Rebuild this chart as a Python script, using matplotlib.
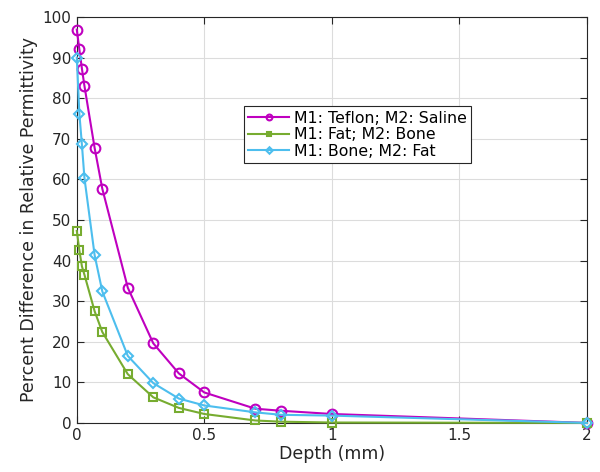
import matplotlib
matplotlib.use('Agg')
import matplotlib.pyplot as plt

plt.rcParams['font.family'] = ['DejaVu Sans']

# depth (mm)
depth = [0, 0.01, 0.02, 0.03, 0.07, 0.1, 0.2, 0.3, 0.4, 0.5, 0.7, 0.8, 1, 2]

# percent difference in relative permittivity
teflon_saline = [96.9, 92.0, 87.3, 83.0, 67.7, 57.7, 33.3, 19.6, 12.2, 7.5, 3.5, 3.0, 2.2, 0]
fat_bone = [47.3, 42.5, 38.6, 36.5, 27.5, 22.4, 12.0, 6.3, 3.7, 2.2, 0.6, 0.3, 0.1, 0]
bone_fat = [90.0, 76.2, 68.6, 60.3, 41.3, 32.4, 16.5, 9.8, 6.0, 4.3, 2.6, 2.0, 1.8, 0]

labels = ['M1: Teflon; M2: Saline', 'M1: Fat; M2: Bone', 'M1: Bone; M2: Fat']

fig = plt.figure(figsize=(6, 4.72), dpi=100)
ax = fig.add_axes([0.128, 0.104, 0.850, 0.860])

ax.plot(depth, teflon_saline, color='#BF00BF', lw=1.5, marker='o', ms=7,
        mfc='none', mew=1.5, label=labels[0], clip_on=False, zorder=3)
ax.plot(depth, fat_bone, color='#77AC30', lw=1.5, marker='s', ms=6,
        mfc='none', mew=1.5, label=labels[1], clip_on=False, zorder=3)
ax.plot(depth, bone_fat, color='#4DBEEE', lw=1.5, marker='D', ms=5.5,
        mfc='none', mew=1.5, label=labels[2], clip_on=False, zorder=3)

ax.set_xlim(0, 2)
ax.set_ylim(0, 100)
ax.set_xticks([0, 0.5, 1, 1.5, 2])
ax.set_xticklabels(['0', '0.5', '1', '1.5', '2'])
ax.set_yticks(range(0, 101, 10))
ax.grid(True, color='#DCDCDC', lw=0.8)
ax.set_axisbelow(True)
ax.tick_params(direction='in', top=True, right=True, labelsize=11,
               length=5, width=0.8, colors='#262626', pad=4)
for s in ax.spines.values():
    s.set_color('#262626')
    s.set_linewidth(0.8)

ax.set_xlabel('Depth (mm)', fontsize=12.5, color='#262626', labelpad=1)
ax.set_ylabel('Percent Difference in Relative Permittivity', fontsize=12.5,
              color='#262626', labelpad=3)

leg = ax.legend(loc='upper left', bbox_to_anchor=(0.327, 0.781), fontsize=11.3,
                fancybox=False, framealpha=1, edgecolor='#262626',
                borderpad=0.3, labelspacing=0.1, handlelength=2.6,
                handletextpad=0.3, borderaxespad=0, markerscale=0.6)
leg.get_frame().set_linewidth(0.8)

fig.savefig('out.png', dpi=100)
